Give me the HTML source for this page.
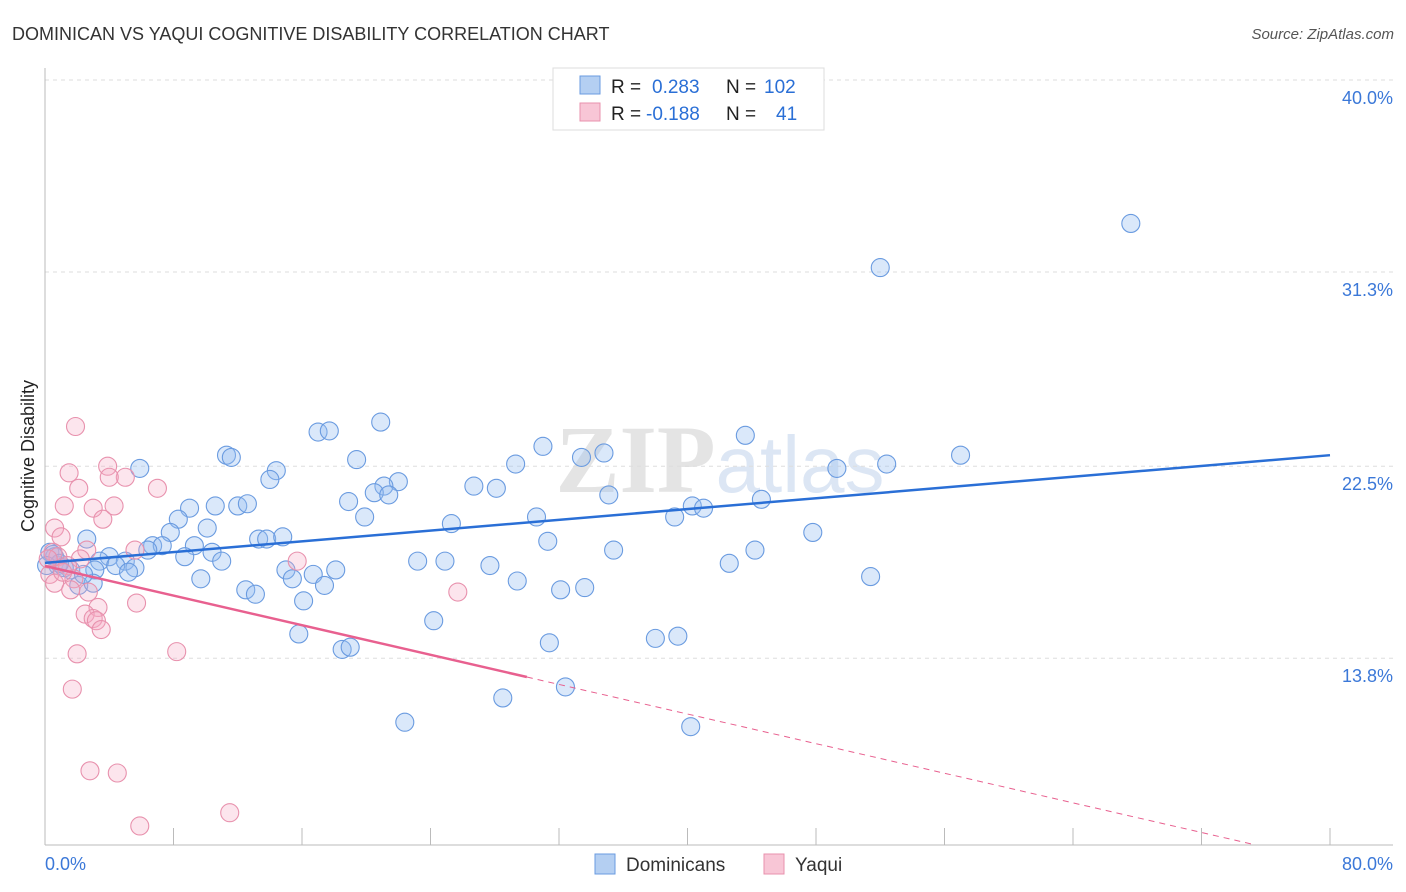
<!DOCTYPE html>
<html><head><meta charset="utf-8"><style>
body{margin:0;background:#fff;font-family:"Liberation Sans",sans-serif}
svg{display:block}
</style></head><body>
<svg id="c" width="1406" height="892" viewBox="0 0 1406 892">
<text x="12" y="40" font-size="18" fill="#333">DOMINICAN VS YAQUI COGNITIVE DISABILITY CORRELATION CHART</text>
<text x="1394" y="39" font-size="15" fill="#555" text-anchor="end" font-style="italic">Source: ZipAtlas.com</text>
<text x="720" y="492" font-size="96" fill="#e4e4e4" text-anchor="middle" font-family="Liberation Serif,serif" font-weight="bold">ZIP<tspan fill="#dce6f4" font-family="Liberation Sans,sans-serif" font-weight="normal" font-size="80">atlas</tspan></text>
<g id="grid"></g><g id="axes"></g><g id="pts"></g><g id="lines"></g>
<text transform="translate(34,456) rotate(-90)" font-size="18" fill="#222" text-anchor="middle">Cognitive Disability</text>
<text x="45" y="870" font-size="18" fill="#3b78d8">0.0%</text>
<text x="1393" y="870" font-size="18" fill="#3b78d8" text-anchor="end">80.0%</text>
<g>
<rect x="553" y="68" width="271" height="62" fill="#fff" stroke="#ddd"/>
<rect x="580" y="76" width="20" height="18" fill="#b4cff2" stroke="#6a9be0"/>
<rect x="580" y="103" width="20" height="18" fill="#f8c6d6" stroke="#e891ad"/>
<text x="611" y="93" font-size="19" fill="#222">R = <tspan fill="#2a6fd6" x="652">0.283</tspan><tspan x="726" fill="#222">N =</tspan><tspan x="764" fill="#2a6fd6">102</tspan></text>
<text x="611" y="120" font-size="19" fill="#222">R = <tspan fill="#2a6fd6" x="646">-0.188</tspan><tspan x="726" fill="#222">N =</tspan><tspan x="776" fill="#2a6fd6">41</tspan></text>
</g>
<g>
<rect x="595" y="854" width="20" height="20" fill="#b4cff2" stroke="#6a9be0"/>
<text x="626" y="871" font-size="19" fill="#333">Dominicans</text>
<rect x="764" y="854" width="20" height="20" fill="#f8c6d6" stroke="#e891ad"/>
<text x="795" y="871" font-size="19" fill="#333">Yaqui</text>
</g>
</svg>
<script>
const yTicks=[13.8,22.5,31.3,40.0];
const yTickLabels=["13.8%","22.5%","31.3%","40.0%"];
const domX=[67.6,52.0,20.9,17.0,17.7,43.6,31.0,11.3,11.6,57.0,34.8,19.4,29.3,33.4,5.9,49.3,52.4,14.4,14.0,22.0,21.1,26.7,28.1,20.5,21.4,35.1,18.9,9.0,10.6,12.0,12.6,44.6,40.3,41.0,30.6,39.2,19.9,25.3,8.3,10.1,47.8,2.6,7.8,13.3,13.8,14.8,31.3,6.7,7.3,6.4,9.3,35.4,44.2,10.4,4.0,8.7,23.2,24.9,5.0,3.4,4.4,5.6,42.6,27.7,11.0,18.1,15.0,16.7,15.4,9.7,29.4,51.4,5.2,3.1,1.6,0.8,0.3,0.6,1.2,2.1,3.0,12.5,13.1,17.4,32.1,33.6,16.1,24.2,15.8,31.4,38.0,39.4,18.5,19.0,32.4,28.5,22.4,40.2,0.5,0.9,0.1,2.4];
const domY=[33.5,31.5,24.5,24.05,24.1,23.9,23.4,23.0,22.9,23.0,23.1,22.8,22.6,22.9,22.4,22.4,22.6,22.3,21.9,21.8,21.6,21.6,21.5,21.3,21.2,21.2,20.9,20.6,20.7,20.7,20.8,21.0,20.7,20.6,20.2,20.2,20.2,19.9,20.1,19.7,19.5,19.2,19.5,19.2,19.2,19.3,19.1,18.9,18.9,18.7,18.9,18.7,18.7,18.6,18.4,18.4,18.2,18.2,18.2,18.2,18.0,17.9,18.1,18.0,18.2,17.8,17.8,17.6,17.4,17.4,17.3,17.5,17.7,17.8,17.8,18.0,18.6,18.4,17.9,17.1,17.2,16.9,16.7,17.1,16.9,17.0,16.4,15.5,14.9,14.5,14.7,14.8,14.2,14.3,12.5,12.0,10.9,10.7,18.5,18.1,18.0,17.6];
const yaqX=[1.9,3.9,5.0,1.5,4.0,7.0,2.1,1.2,3.0,4.3,3.6,0.6,1.0,2.6,5.6,0.5,15.7,0.8,2.2,1.4,0.3,1.8,0.6,2.7,25.7,5.7,3.3,2.5,3.0,3.2,3.5,2.0,8.2,1.7,2.8,4.5,11.5,5.9,0.2,1.1,1.6];
const yaqY=[24.3,22.5,22.0,22.2,22.0,21.5,21.5,20.7,20.6,20.7,20.1,19.7,19.3,18.7,18.7,18.6,18.2,18.4,18.3,18.0,17.6,17.4,17.2,16.8,16.8,16.3,16.1,15.8,15.6,15.5,15.1,14.0,14.1,12.4,8.7,8.6,6.8,6.2,18.3,17.7,16.9];
const domTrend=[18.12,23.0];
const yaqTrend=[17.98,-0.1677];
const X0=45,X1=1330,NS="http://www.w3.org/2000/svg";
const sx=v=>X0+(X1-X0)*v/80;
const sy=v=>80+(40-v)*22.07;
function mk(t,a,p){const e=document.createElementNS(NS,t);for(const k in a)e.setAttribute(k,a[k]);document.getElementById(p).appendChild(e);return e;}
yTicks.forEach((t,i)=>{
const g=mk('line',{x1:45,x2:1393,y1:sy(t),y2:sy(t),stroke:'#ddd','stroke-dasharray':'4,4'},'grid');


const l=mk('text',{x:1393,y:sy(t)+24,'font-size':18,fill:'#3b78d8','text-anchor':'end'},'grid');
l.textContent=yTickLabels[i];


});
const ax=mk('line',{x1:45,x2:45,y1:68,y2:845,stroke:'#bbb'},'axes');


const bx=mk('line',{x1:45,x2:1393,y1:845,y2:845,stroke:'#bbb'},'axes');


for(let i=1;i<=10;i++){const t=mk('line',{x1:sx(i*8),x2:sx(i*8),y1:828,y2:845,stroke:'#bbb'},'axes');

}
domX.forEach((x,i)=>{const c=mk('circle',{cx:sx(x),cy:sy(domY[i]),r:9,fill:'rgba(150,190,240,0.35)',stroke:'#6a9be0','stroke-width':1.1},'pts');

});
yaqX.forEach((x,i)=>{const c=mk('circle',{cx:sx(x),cy:sy(yaqY[i]),r:9,fill:'rgba(245,170,195,0.3)',stroke:'#e891ad','stroke-width':1.1},'pts');

});
const bl=mk('line',{x1:sx(0),y1:sy(domTrend[0]),x2:sx(80),y2:sy(domTrend[1]),stroke:'#2a6fd6','stroke-width':2.5},'lines');


const py=x=>yaqTrend[0]+yaqTrend[1]*x;
const pl=mk('line',{x1:sx(0),y1:sy(py(0)),x2:sx(30),y2:sy(py(30)),stroke:'#e8608f','stroke-width':2.5},'lines');


const xe=(yaqTrend[0]-5.35)/-yaqTrend[1];
const pd=mk('line',{x1:sx(30),y1:sy(py(30)),x2:sx(xe),y2:sy(py(xe)),stroke:'#e8608f','stroke-width':1,'stroke-dasharray':'6,5'},'lines');


</script>
</body></html>
